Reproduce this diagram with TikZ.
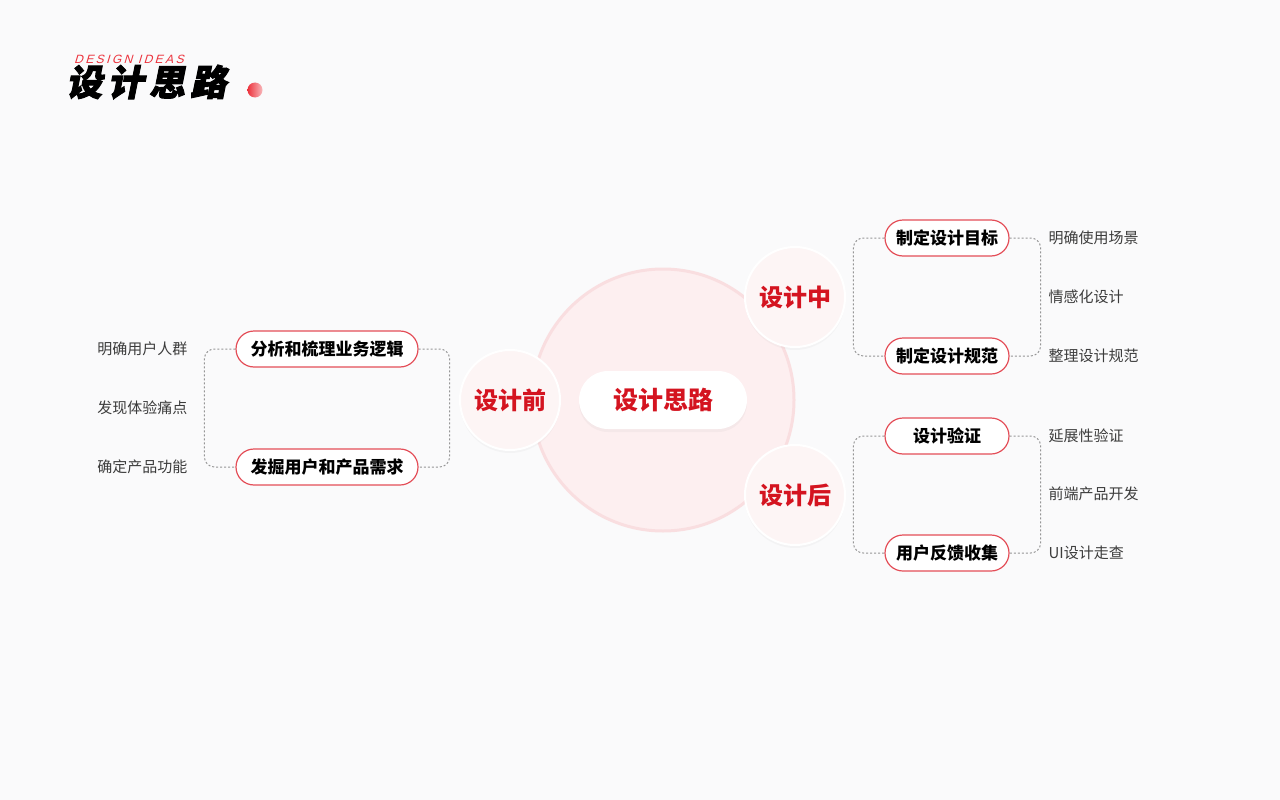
\documentclass[tikz,border=0pt]{standalone}
\usepackage{fontspec}
\setmainfont{Noto Sans CJK SC}
\newfontfamily\titlefont[FakeSlant=0.2,LetterSpace=15,BoldFeatures={FakeSlant=0.2,FakeBold=2.5}]{Noto Sans CJK SC}
\newfontfamily\tagfont[FakeSlant=0.3,LetterSpace=20]{Liberation Sans}
\usetikzlibrary{shadows}

\definecolor{mainred}{RGB}{212,20,32}
\definecolor{pillred}{RGB}{228,78,88}
\definecolor{ringpink}{RGB}{249,222,224}
\definecolor{bigpink}{RGB}{253,239,240}
\definecolor{softpink}{RGB}{253,245,245}
\definecolor{linegray}{RGB}{150,150,150}
\definecolor{textgray}{RGB}{60,60,60}
\definecolor{bggray}{RGB}{250,250,251}
\definecolor{dotred}{RGB}{236,50,60}

\tikzset{
  pill/.style={draw=pillred, line width=1.2pt, fill=white, rounded corners=18pt,
    minimum height=36, font=\fontsize{17}{20}\selectfont\bfseries},
  stage/.style={circle, fill=softpink, draw=white, line width=2pt, minimum size=100,
    text=mainred, font=\fontsize{24}{28}\selectfont\bfseries,
    drop shadow={opacity=0.05, shadow xshift=0pt, shadow yshift=-3pt}},
  note/.style={text=textgray, font=\fontsize{15}{18}\selectfont},
  link/.style={draw=linegray, dash pattern=on 2pt off 2pt, line width=1pt, rounded corners=10pt},
}

\begin{document}
\begin{tikzpicture}[x=1pt, y=-1pt]
  \useasboundingbox (0,0) rectangle (1280,800);
  \fill[bggray] (0,0) rectangle (1280,800);

  % Title
  \node[anchor=west, inner sep=0, font=\titlefont\bfseries\fontsize{36}{38}\selectfont] (title) at (66,82) {设计思路};
  \node[anchor=west, inner sep=0, text=dotred, font=\tagfont\fontsize{12}{12}\selectfont] (tag) at (74,59) {DESIGN IDEAS};
  \node[circle, minimum size=15, inner sep=0, left color=dotred, right color=dotred!35] (dot) at (255,90) {};

  % Centre
  \node[circle, minimum size=262, fill=bigpink, draw=ringpink, line width=3pt] (core) at (663,400) {};
  \node[stage] (before) at (510,400) {设计前};
  \node[stage] (during) at (795,297) {设计中};
  \node[stage] (after) at (795,495) {设计后};
  \node[fill=white, rounded corners=29pt, minimum width=168, minimum height=58, text=mainred,
    font=\fontsize{25}{28}\selectfont\bfseries,
    drop shadow={opacity=0.06, shadow xshift=0pt, shadow yshift=-3pt}] (idea) at (663,400) {设计思路};

  % Before
  \node[pill, minimum width=182] (b1) at (327,349) {分析和梳理业务逻辑};
  \node[pill, minimum width=182] (b2) at (327,467) {发掘用户和产品需求};
  \node[note, anchor=east] (bn1) at (191,349) {明确用户人群};
  \node[note, anchor=east] (bn2) at (191,408) {发现体验痛点};
  \node[note, anchor=east] (bn3) at (191,467) {确定产品功能};

  % During
  \node[pill, minimum width=124] (d1) at (947,238) {制定设计目标};
  \node[pill, minimum width=124] (d2) at (947,356) {制定设计规范};
  \node[note, anchor=west] (dn1) at (1045,238) {明确使用场景};
  \node[note, anchor=west] (dn2) at (1045,297) {情感化设计};
  \node[note, anchor=west] (dn3) at (1045,356) {整理设计规范};

  % After
  \node[pill, minimum width=124] (a1) at (947,436) {设计验证};
  \node[pill, minimum width=124] (a2) at (947,553) {用户反馈收集};
  \node[note, anchor=west] (an1) at (1045,436) {延展性验证};
  \node[note, anchor=west] (an2) at (1045,494) {前端产品开发};
  \node[note, anchor=west] (an3) at (1045,553) {UI设计走查};

  % Dashed brackets
  \draw[link] (b1.west) -- ++(-31,0) |- (b2.west);
  \draw[link] (b1.east) -- ++(31,0) |- (b2.east);
  \draw[link] (d1.west) -- ++(-31,0) |- (d2.west);
  \draw[link] (d1.east) -- ++(31,0) |- (d2.east);
  \draw[link] (a1.west) -- ++(-31,0) |- (a2.west);
  \draw[link] (a1.east) -- ++(31,0) |- (a2.east);
\end{tikzpicture}
\end{document}
